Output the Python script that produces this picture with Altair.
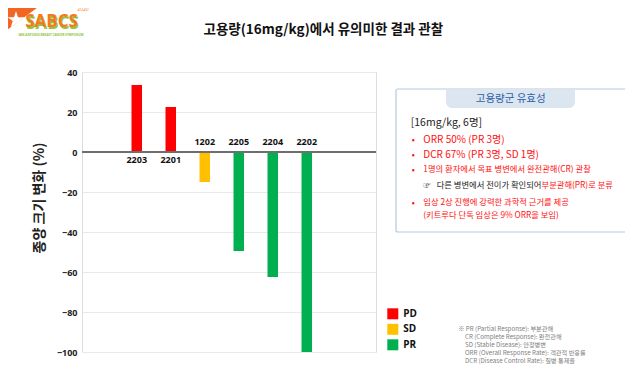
import altair as alt
import pandas as pd

# ---- data ----
patient_ids = ["2203", "2201", "1202", "2205", "2204", "2202"]
tumor_change = [33.5, 22.5, -15, -49.5, -62.5, -100]
response = ["PD", "PD", "SD", "PR", "PR", "PR"]

status_order = ["PD", "SD", "PR"]
status_colors = ["#ff0000", "#ffc000", "#00b050"]
y_ticks = [40, 20, 0, -20, -40, -60, -80, -100]

title_text = "고용량(16mg/kg)에서 유의미한 결과 관찰"
y_title = "종양 크기 변화 (%)"
box_header = "고용량군 유효성"
box_lines_black = ["[16mg/kg, 6명]"]
box_bullets = [
    "ORR 50% (PR 3명)",
    "DCR 67% (PR 3명, SD 1명)",
]
box_bullets_small = [
    "1명의 환자에서 목표 병변에서 완전관해(CR) 관찰",
]
box_note_black = "다른 병변에서 전이가 확인되어"
box_note_red = "부분관해(PR)로 분류"
box_last = ["임상 2상 진행에 강력한 과학적 근거를 제공", "(키트루다 단독 임상은 9% ORR을 보임)"]
footnotes = [
    "※ PR (Partial Response): 부분관해",
    "CR (Complete Response): 완전관해",
    "SD (Stable Disease): 안정병변",
    "ORR (Overall Response Rate): 객관적 반응률",
    "DCR (Disease Control Rate): 질병 통제율",
]

df = pd.DataFrame({"id": patient_ids, "change": tumor_change, "status": response})
df["pos"] = range(len(df))
df["zero"] = 0

KR = "Noto Sans CJK KR"
W, H = 294, 280

xscale = alt.Scale(domain=[-1.463, 6.889], nice=False, zero=False)
yscale = alt.Scale(domain=[-100, 40], nice=False, zero=False)
YAX = alt.Axis(values=y_ticks, title=None, grid=True, gridColor="#e9e9e9",
               gridWidth=1, domain=False, ticks=False, labelPadding=5,
               labelOverlap=False, labelFlush=False,
               labelFont="Open Sans", labelFontWeight="bold", labelFontSize=9,
               labelColor="#222222")
X = alt.X("pos:Q", scale=xscale, axis=None)
Y0 = alt.Y("zero:Q", scale=yscale, axis=YAX)

base = alt.Chart(df)

bars = base.mark_bar(size=10.5).encode(
    x=X,
    y=alt.Y("change:Q", scale=yscale, axis=YAX),
    y2="zero:Q",
    color=alt.Color("status:N",
                    scale=alt.Scale(domain=status_order, range=status_colors),
                    legend=alt.Legend(orient="none", legendX=305.3, legendY=236.3, title=None,
                                      symbolType="square", symbolSize=121, symbolStrokeWidth=0,
                                      symbolOpacity=1, rowPadding=4.5, labelOffset=5, padding=0,
                                      labelFont="Open Sans", labelFontWeight="bold",
                                      labelFontSize=10, labelColor="#111111")),
)

zero_rule = base.mark_rule(color="#6e6e6e", strokeWidth=1.8).encode(y=Y0)

lab_pos = base.transform_filter("datum.change > 0").mark_text(
    font="Open Sans", fontWeight="bold", fontSize=9, color="#111111", baseline="middle", dy=8
).encode(x=X, y=Y0, text="id:N")

lab_neg = base.transform_filter("datum.change < 0").mark_text(
    font="Open Sans", fontWeight="bold", fontSize=9, color="#111111", baseline="middle", dy=-10
).encode(x=X, y=Y0, text="id:N")


def txt(s, x, y, size=10, color="#111111", weight="normal", align="left", font=KR, angle=0):
    kw = dict(font=font, fontSize=size, color=color, fontWeight=weight, align=align,
              baseline="middle")
    if angle:
        kw["angle"] = angle
    return alt.Chart(alt.Data(values=[{"t": s}])).mark_text(**kw).encode(
        x=alt.value(x), y=alt.value(y), text="t:N")


one = alt.Data(values=[{"a": 1}])

layers = [bars, zero_rule, lab_pos, lab_neg]

# title and y title
layers.append(txt(title_text, 241.3, -42, size=13.5, weight="bold", align="center", color="#111111"))
layers.append(txt(y_title, -42, 126, size=14, weight="bold", align="center", angle=270, color="#222222"))

# info box
layers.append(alt.Chart(one).mark_rect(fill="white", stroke="#b7c8dc", strokeWidth=1.2, cornerRadius=2).encode(
    x=alt.value(314), x2=alt.value(547), y=alt.value(17), y2=alt.value(160)))
layers.append(alt.Chart(one).mark_rect(fill="#dce6f1", cornerRadiusBottomLeft=6, cornerRadiusBottomRight=6).encode(
    x=alt.value(364), x2=alt.value(493), y=alt.value(17.5), y2=alt.value(36)))
layers.append(txt(box_header, 428.7, 26.5, size=10.5, color="#2e5fa8", align="center"))
layers.append(txt(box_lines_black[0], 328.7, 51.3, size=10.5, color="#222222"))
red = "#ff1111"
ys_big = [68, 83]
for s, yy in zip(box_bullets, ys_big):
    layers.append(txt("•", 329.7, yy, size=9, color=red))
    layers.append(txt(s, 341.3, yy, size=10, color=red))
layers.append(txt("•", 329.7, 98, size=9, color=red))
layers.append(txt(box_bullets_small[0], 341.3, 98, size=8.3, color=red))
layers.append(txt("☞", 341, 114, size=8, color="#555555"))
layers.append(txt(box_note_black, 354.7, 114, size=8.3, color="#222222"))
layers.append(txt(box_note_red, 459.5, 114, size=8.3, color=red))
layers.append(txt("•", 329.7, 130.7, size=9, color=red))
layers.append(txt(box_last[0], 341.3, 130.7, size=8.3, color=red))
layers.append(txt(box_last[1], 341.3, 144, size=8.3, color=red))

# footnotes
for i, s in enumerate(footnotes):
    xx = 376.3 if i == 0 else 383
    layers.append(txt(s, xx, 256.5 + 8.1 * i, size=6.2, color="#808080"))

# logo
layers.append(alt.Chart(one).mark_point(
    shape="M -1 -0.733 L 1 -0.733 L -1 0.733 Z", filled=True, fill="#f26522", opacity=1, size=2025, strokeWidth=0
).encode(x=alt.value(-59.5), y=alt.value(-53.5)))
layers.append(alt.Chart(one).mark_point(
    shape="M0,-1 L0.224,-0.309 L0.951,-0.309 L0.363,0.118 L0.588,0.809 L0,0.382 L-0.588,0.809 L-0.363,0.118 L-0.951,-0.309 L-0.224,-0.309Z",
    filled=True, fill="white", opacity=1, size=320, strokeWidth=0
).encode(x=alt.value(-66), y=alt.value(-52)))
layers.append(txt("SABCS", -29.5, -48.5, size=17, weight="bold", color="#8dc63f", align="center", font="Open Sans"))
layers.append(txt("SABCS", -30.5, -50, size=17, weight="bold", color="#f47920", align="center", font="Open Sans"))
layers.append(txt("2020", 1, -63, size=5, color="#f47920", align="center", font="Open Sans"))
layers.append(txt("SAN ANTONIO BREAST CANCER SYMPOSIUM", -31, -37.5, size=3, weight="bold",
                  color="#8dc63f", align="center", font="Open Sans"))

chart = alt.layer(*layers).properties(
    width=W, height=H,
    autosize=alt.AutoSizeParams(type="none"),
    padding={"left": 74, "top": 64, "right": 249, "bottom": 12},
).configure_view(stroke=None).configure(background="white")

chart.save("out.html", embed_options={"renderer": "svg", "actions": False})
